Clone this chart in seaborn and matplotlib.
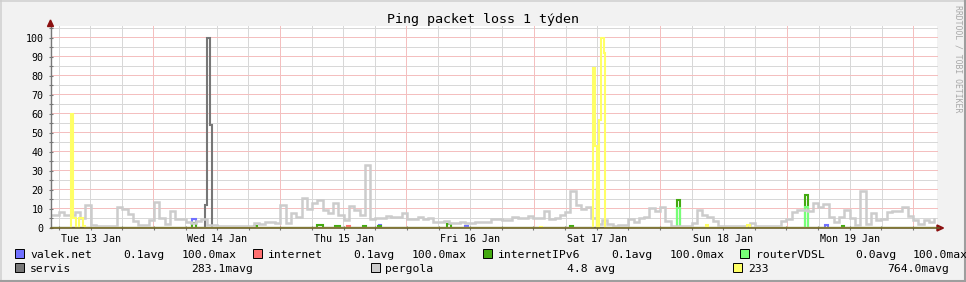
import numpy as np
import pandas as pd
import matplotlib
matplotlib.use("Agg")
import matplotlib.pyplot as plt
import seaborn as sns
from matplotlib.patches import Rectangle, Polygon
from matplotlib.lines import Line2D

# ---------------- data (x = hours since Tue 13 Jan 00:00) ----------------
pergola_hours = list(range(4, 173))
pergola_loss = [
    6.8, 6.8, 8.6, 7, 7, 8.6, 5, 12, 1.5, 1.2, 1.2, 1.0, 1.2, 11, 10, 7.5, 3.5, 1.6, 1.5, 4,
    13.5, 5, 2, 9, 4.5, 4.5, 3, 2.5, 3.5, 4.5, 1.5, 1.5, 1, 0.8, 0.8, 0.8, 0.8, 1, 1, 2.5,
    2, 3, 3, 2.5, 12, 2.7, 7.7, 6, 15.6, 10, 13, 14.5, 9.5, 8, 13, 7, 4, 11.5, 9.5, 7,
    33, 4.5, 5, 5.5, 6.5, 6, 6, 7.7, 4.6, 4.8, 5.6, 4.8, 5, 3, 3, 3.5, 2.5, 2.5, 3, 2.5,
    2.5, 3.3, 3.3, 3.3, 4.5, 4.5, 4.2, 4.2, 5.6, 5, 5.5, 6.3, 5, 5, 9, 4.5, 5.5, 7, 8.5, 19.5,
    12, 10, 11, 5, 2, 4, 2, 0.8, 1.5, 1.5, 4.5, 3, 5, 6, 10.3, 9, 11.2, 3.5, 0.8, 0.8,
    0.8, 1.2, 2.5, 9.5, 7, 6, 3.5, 1, 0.8, 0.8, 0.8, 0.8, 0.8, 2.5, 1, 1, 1, 1, 1, 3.5,
    4.5, 8.6, 9.5, 9.5, 9, 13, 11, 12.5, 6, 3, 6, 9.5, 5, 1.5, 19.6, 2, 7.7, 4, 4.5, 8.6,
    9.1, 9.1, 11, 6.5, 4, 2, 4.4, 3, 4.7,
]

valek_t = [31.3, 31.9, 66.6, 67.0, 83.0, 83.5, 151.3, 151.8]
valek_v = [4.5, 0, 1.5, 0, 1, 0, 1.5, 0]

internet_t = [60.6, 61.1]
internet_v = [1, 0]

ipv6_t = [31.3, 31.9, 43.0, 43.6, 55.0, 56.0, 58.3, 59.2, 63.7, 64.2, 66.5, 67.1,
          79.5, 80.4, 103.0, 103.5, 123.2, 123.8, 147.5, 148.1, 154.6, 155.0]
ipv6_v = [2.5, 0, 1.2, 0, 1.6, 0, 0.8, 0, 0.8, 0, 1.2, 0, 2, 0, 1, 0, 14.7, 0, 17.4, 0, 1, 0]

router_t = [123.2, 123.8, 147.5, 148.1]
router_v = [10.3, 0, 11.2, 0]

servis_t = [33.6, 34.1, 34.6, 35.0, 108.0, 108.1]
servis_v = [12, 100, 54, 0, 21, 0]

y233_t = [8.3, 8.7, 9.2, 9.7, 10.5, 11.0, 97.3, 97.7, 107.2, 107.7, 108.0, 108.5,
          108.9, 109.3, 109.6, 128.7, 129.2, 136.5, 137.0]
y233_v = [60, 5, 0, 5, 1, 0, 0.7, 0, 84, 43, 0, 57, 100, 92, 0, 1.5, 0, 1.5, 0]

day_labels = ["Tue 13 Jan", "Wed 14 Jan", "Thu 15 Jan", "Fri 16 Jan",
              "Sat 17 Jan", "Sun 18 Jan", "Mon 19 Jan"]
day_label_hours = [12, 36, 60, 84, 108, 132, 156]

legend_names = ["valek.net", "internet", "internetIPv6", "routerVDSL",
                "servis", "pergola", "233"]
legend_avg = ["0.1avg", "0.1avg", "0.1avg", "0.0avg"]
legend_max = ["100.0max", "100.0max", "100.0max", "100.0max"]
legend_row2_stat = ["283.1mavg", "4.8 avg", "764.0mavg"]

colors = {
    "valek.net": "#7070FF", "internet": "#FF7070", "internetIPv6": "#44AA11",
    "routerVDSL": "#77FF77", "servis": "#777777", "pergola": "#CCCCCC", "233": "#FFFF66",
}

T0, T1 = 4.0, 172.6

def as_steps(t, v):
    return [T0] + list(t) + [T1], [0.0] + list(v) + [v[-1]]

# ---------------- figure ----------------
W, H = 966, 282
plt.rcParams["font.family"] = ["DejaVu Sans Mono", "DejaVu Sans"]
fig = plt.figure(figsize=(W / 100, H / 100), dpi=100, facecolor="#F2F2F2")

def fx(px):
    return px / W

def fy(py):
    return 1 - py / H

AX_W, AX_H = 886, 202
XMIN, XMAX, YMAX = 4.46, 172.56, 106.3
ax = fig.add_axes([fx(51), fy(228), AX_W / W, AX_H / H])
ax.set_facecolor("white")
ax.set_xlim(XMIN, XMAX)
ax.set_ylim(0, YMAX)

# ---- light 1px grid rendered pixel-exact as a background raster ----
grid = np.zeros((AX_H, AX_W, 4))
grey = np.array([0.85, 0.85, 0.85, 1.0])
red = np.array([0.96, 0.75, 0.75, 1.0])

def col_of(h):
    return int(np.floor((h - XMIN) / (XMAX - XMIN) * AX_W))

def row_of(v):
    return int(np.floor((1 - v / YMAX) * AX_H))

for v in range(5, 106, 10):
    r = row_of(v)
    if 0 <= r < AX_H:
        grid[r, :] = grey
for h in range(6, 172, 6):
    if h % 24:
        grid[:, col_of(h)] = grey
for v in range(10, 101, 10):
    grid[row_of(v), :] = red
for h in range(24, 172, 24):
    grid[:, col_of(h)] = red
ax.imshow(grid, extent=[XMIN, XMAX, 0, YMAX], aspect="auto", interpolation="nearest",
          zorder=0.5)

series = [
    ("valek.net", as_steps(valek_t, valek_v), 1.5),
    ("internet", as_steps(internet_t, internet_v), 1.5),
    ("internetIPv6", as_steps(ipv6_t, ipv6_v), 1.5),
    ("routerVDSL", as_steps(router_t, router_v), 1.5),
    ("servis", as_steps(servis_t, servis_v), 1.5),
    ("pergola", (pergola_hours, pergola_loss), 1.8),
    ("233", as_steps(y233_t, y233_v), 1.5),
]
for name, (xs, ys), lw in series:
    df = pd.DataFrame({"hour": xs, "loss": ys})
    sns.lineplot(data=df, x="hour", y="loss", ax=ax, color=colors[name], lw=lw,
                 drawstyle="steps-post", estimator=None, sort=False, legend=False,
                 zorder=2, solid_joinstyle="miter")

ax.set_xlim(XMIN, XMAX)
ax.set_ylim(0, YMAX)
ax.set_xlabel("")
ax.set_ylabel("")
for s in ["top", "right"]:
    ax.spines[s].set_visible(False)
ax.spines["left"].set_color("#777777")
ax.spines["left"].set_linewidth(1.0)
ax.spines["bottom"].set_color("#6B5F2A")
ax.spines["bottom"].set_linewidth(1.2)
ax.spines["left"].set_zorder(3)
ax.spines["bottom"].set_zorder(3)

ax.set_yticks(range(0, 101, 10))
ax.set_yticks(range(5, 106, 10), minor=True)
ax.set_xticks(day_label_hours)
ax.set_xticklabels(day_labels)
ax.set_xticks([h for h in range(6, 172, 6) if h % 24 != 12], minor=True)
ax.tick_params(axis="y", which="both", length=3, width=0.8, color="#777777",
               direction="inout", labelsize=7.2, pad=4)
ax.tick_params(axis="x", which="both", length=3, width=0.8, color="#777777",
               direction="inout", labelsize=7.2, pad=3)

# arrows
fig.add_artist(Polygon([(fx(47.5), fy(26.5)), (fx(53.5), fy(26.5)), (fx(50.5), fy(20))],
                       closed=True, color="#8B1010", transform=fig.transFigure))
fig.add_artist(Polygon([(fx(937), fy(225)), (fx(937), fy(231)), (fx(943.5), fy(228))],
                       closed=True, color="#8B1010", transform=fig.transFigure))
fig.add_artist(Line2D([fx(937), fx(939)], [fy(228), fy(228)], color="#6B5F2A", lw=1.2))

# title
fig.text(fx(483), fy(19), "Ping packet loss 1 týden", ha="center", va="center", fontsize=9.6)

# side text
fig.text(fx(958), fy(5), "RRDTOOL / TOBI OETIKER", rotation=270, ha="center", va="top",
         fontsize=5.9, color="#A8A8A8")

# legend
fs = 8.2
def swatch(px, py_top, color):
    fig.add_artist(Rectangle((fx(px), fy(py_top + 9)), 9 / W, 9 / H, facecolor=color,
                             edgecolor="black", lw=0.7, transform=fig.transFigure))

row1_y = 258
sq1 = [15, 253, 483, 740]
name1 = [30, 267, 497, 756]
avg1 = [123, 353, 611, 855]
max1 = [182, 412, 670, 913]
for i in range(4):
    n = legend_names[i]
    swatch(sq1[i], row1_y - 9, colors[n])
    fig.text(fx(name1[i]), fy(row1_y), n, fontsize=fs, va="baseline")
    fig.text(fx(avg1[i]), fy(row1_y), legend_avg[i], fontsize=fs, va="baseline")
    fig.text(fx(max1[i]), fy(row1_y), legend_max[i], fontsize=fs, va="baseline")

row2_y = 272
sq2 = [15, 371, 733]
name2 = [30, 385, 748]
stat2 = [191, 567, 887]
for i in range(3):
    n = legend_names[4 + i]
    swatch(sq2[i], row2_y - 9, colors[n])
    fig.text(fx(name2[i]), fy(row2_y), n, fontsize=fs, va="baseline")
    fig.text(fx(stat2[i]), fy(row2_y), legend_row2_stat[i], fontsize=fs, va="baseline")

# frame shading
fig.add_artist(Line2D([0, 1], [fy(0.75), fy(0.75)], color="#CFCFCF", lw=1.1))
fig.add_artist(Line2D([fx(0.75), fx(0.75)], [0, 1], color="#CFCFCF", lw=1.1))
fig.add_artist(Line2D([0, 1], [fy(281.0), fy(281.0)], color="#9E9E9E", lw=1.5))
fig.add_artist(Line2D([fx(965.0), fx(965.0)], [0, 1], color="#9E9E9E", lw=1.5))

fig.savefig("out.png", dpi=100, facecolor=fig.get_facecolor())
